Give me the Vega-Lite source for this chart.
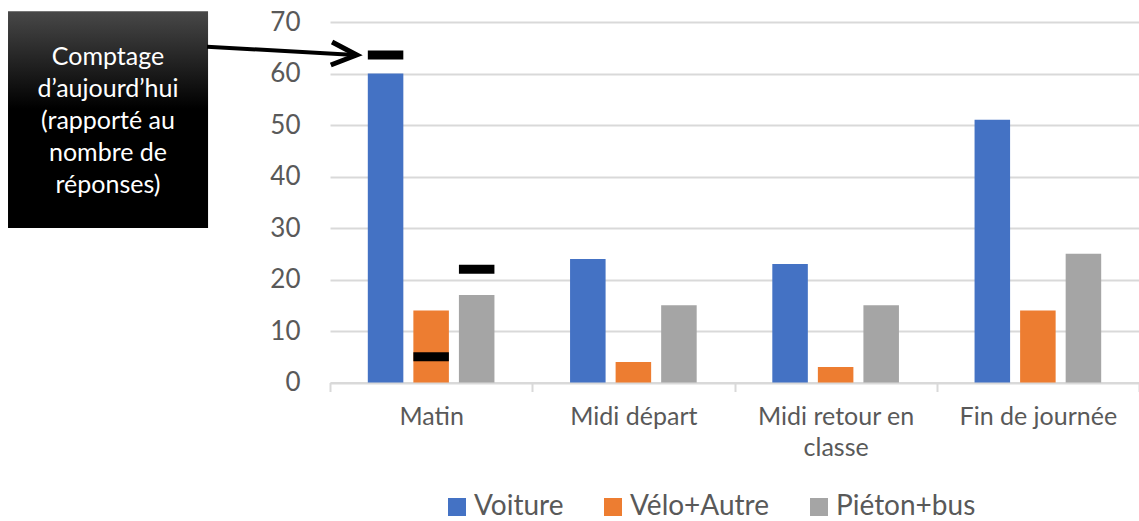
{
  "$schema": "https://vega.github.io/schema/vega-lite/v6.json",
  "width": 809,
  "height": 360.5,
  "autosize": {"type": "none"},
  "padding": {"left": 330, "top": 22, "right": 0, "bottom": 138.5},
  "background": "white",
  "config": {"view": {"stroke": null}, "font": "Lato"},
  "datasets": {
    "bars": [
      {"moment": "Matin", "mode": "Voiture", "valeur": 60, "comptage": 63.6},
      {"moment": "Matin", "mode": "Vélo+Autre", "valeur": 14, "comptage": 5},
      {"moment": "Matin", "mode": "Piéton+bus", "valeur": 17, "comptage": 22},
      {"moment": "Midi départ", "mode": "Voiture", "valeur": 24, "comptage": null},
      {"moment": "Midi départ", "mode": "Vélo+Autre", "valeur": 4, "comptage": null},
      {"moment": "Midi départ", "mode": "Piéton+bus", "valeur": 15, "comptage": null},
      {"moment": "Midi retour en classe", "mode": "Voiture", "valeur": 23, "comptage": null},
      {"moment": "Midi retour en classe", "mode": "Vélo+Autre", "valeur": 3, "comptage": null},
      {"moment": "Midi retour en classe", "mode": "Piéton+bus", "valeur": 15, "comptage": null},
      {"moment": "Fin de journée", "mode": "Voiture", "valeur": 51, "comptage": null},
      {"moment": "Fin de journée", "mode": "Vélo+Autre", "valeur": 14, "comptage": null},
      {"moment": "Fin de journée", "mode": "Piéton+bus", "valeur": 25, "comptage": null}
    ],
    "note": [
      {"texte": "Comptage\nd’aujourd’hui\n(rapporté au\nnombre de\nréponses)"}
    ]
  },
  "layer": [
    {
      "data": {"name": "bars"},
      "encoding": {
        "x": {
          "field": "moment",
          "type": "nominal",
          "sort": ["Matin", "Midi départ", "Midi retour en classe", "Fin de journée"],
          "scale": {"paddingInner": 0, "paddingOuter": 0},
          "axis": {
            "title": null,
            "tickBand": "extent",
            "grid": false,
            "domainColor": "#d9d9d9",
            "domainWidth": 2,
            "tickColor": "#d9d9d9",
            "tickWidth": 2,
            "tickSize": 9,
            "labelFont": "Lato",
            "labelFontSize": 25,
            "labelColor": "#595959",
            "labelAngle": 0,
            "labelPadding": 13,
            "labelLineHeight": 31,
            "labelLimit": 0,
            "labelExpr": "datum.label == 'Midi retour en classe' ? ['Midi retour en', 'classe'] : datum.label"
          }
        },
        "xOffset": {
          "field": "mode",
          "type": "nominal",
          "sort": ["Voiture", "Vélo+Autre", "Piéton+bus"],
          "scale": {"paddingInner": 0.22, "paddingOuter": 0.83}
        }
      },
      "layer": [
        {
          "mark": {"type": "bar", "opacity": 1},
          "encoding": {
            "y": {
              "field": "valeur",
              "type": "quantitative",
              "scale": {"domain": [0, 70], "nice": false},
              "axis": {
                "title": null,
                "values": [0, 10, 20, 30, 40, 50, 60, 70],
                "domain": false,
                "ticks": false,
                "grid": true,
                "gridColor": "#d9d9d9",
                "gridWidth": 2,
                "labelFont": "Lato",
                "labelFontSize": 26,
                "labelColor": "#595959",
                "labelPadding": 30
              }
            },
            "color": {
              "field": "mode",
              "type": "nominal",
              "sort": ["Voiture", "Vélo+Autre", "Piéton+bus"],
              "scale": {"domain": ["Voiture", "Vélo+Autre", "Piéton+bus"], "range": ["#4472C4", "#ED7D31", "#A5A5A5"]},
              "legend": {
                "orient": "none",
                "legendX": 113,
                "legendY": 471,
                "direction": "horizontal",
                "title": null,
                "symbolType": "square",
                "symbolSize": 324,
                "symbolStrokeWidth": 0,
                "symbolOpacity": 1,
                "labelFont": "Lato",
                "labelFontSize": 28,
                "labelColor": "#595959",
                "columnPadding": 35,
                "labelOffset": 3,
                "labelLimit": 0
              }
            }
          }
        },
        {
          "mark": {"type": "tick", "color": "black", "thickness": 9, "size": 35.5, "orient": "horizontal", "opacity": 1},
          "encoding": {
            "y": {"field": "comptage", "type": "quantitative", "title": null}
          }
        }
      ]
    },
    {
      "data": {"name": "note"},
      "layer": [
        {
          "mark": {"type": "rect", "color": "#000000", "opacity": 0.25, "xOffset": 4, "yOffset": 4},
          "encoding": {
            "x": {"datum": -1.592, "type": "quantitative", "scale": {"domain": [0, 4], "nice": false, "zero": false}, "axis": null},
            "x2": {"datum": -0.603},
            "y": {"datum": 72.1, "type": "quantitative", "title": null},
            "y2": {"datum": 30.0}
          }
        },
        {
          "mark": {
            "type": "rect",
            "fill": {
              "gradient": "linear",
              "x1": 0, "y1": 0, "x2": 0, "y2": 1,
              "stops": [
                {"offset": 0, "color": "#484848"},
                {"offset": 0.45, "color": "#000000"},
                {"offset": 1, "color": "#000000"}
              ]
            }
          },
          "encoding": {
            "x": {"datum": -1.592, "type": "quantitative"},
            "x2": {"datum": -0.603},
            "y": {"datum": 72.1, "type": "quantitative", "title": null},
            "y2": {"datum": 30.0}
          }
        },
        {
          "mark": {"type": "text", "color": "white", "font": "Lato", "fontSize": 25, "lineHeight": 32, "lineBreak": "\n", "align": "center", "baseline": "middle"},
          "encoding": {
            "x": {"datum": -1.0977, "type": "quantitative"},
            "y": {"datum": 63.2, "type": "quantitative", "title": null},
            "text": {"field": "texte", "type": "nominal"}
          }
        },
        {
          "mark": {"type": "rule", "color": "black", "strokeWidth": 4},
          "encoding": {
            "x": {"datum": -0.608, "type": "quantitative"},
            "x2": {"datum": 0.125},
            "y": {"datum": 65.2, "type": "quantitative", "title": null},
            "y2": {"datum": 63.6}
          }
        },
        {
          "mark": {"type": "point", "shape": "M-2.2,-1L0,0L-2.2,1", "size": 529, "angle": 3.2, "filled": false, "stroke": "black", "strokeWidth": 5, "opacity": 1, "strokeJoin": "miter"},
          "encoding": {
            "x": {"datum": 0.132, "type": "quantitative"},
            "y": {"datum": 63.6, "type": "quantitative", "title": null}
          }
        }
      ]
    }
  ],
  "resolve": {"scale": {"x": "independent"}}
}
